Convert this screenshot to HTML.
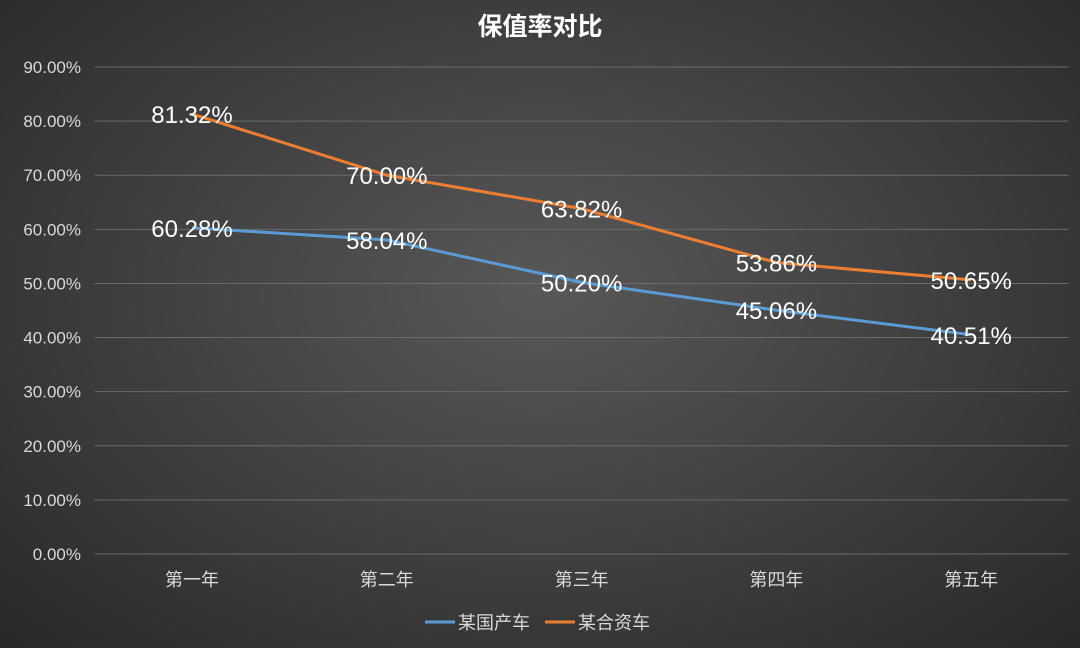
<!DOCTYPE html>
<html><head><meta charset="utf-8"><style>
html,body{margin:0;padding:0}
body{width:1080px;height:648px;overflow:hidden;background:radial-gradient(ellipse at 50% 45%,#585858 0%,#3e3e3e 55%,#282828 100%);font-family:"Liberation Sans","Noto Sans CJK SC",sans-serif}
</style></head><body>
<svg id="chart" width="1080" height="648" xmlns="http://www.w3.org/2000/svg" style="position:absolute;left:0;top:0">
<text x="540" y="35" text-anchor="middle" fill="#ffffff" font-size="25" font-weight="bold" font-family="Liberation Sans, Noto Sans CJK SC, sans-serif">保值率对比</text>
<g id="grid"></g><g id="axes"></g><g id="series"></g>
<g>
<line x1="425" y1="622" x2="455" y2="622" stroke="#5b9bd5" stroke-width="3"/>
<text x="458" y="629" fill="#d9d9d9" font-size="18" font-family="Liberation Sans, Noto Sans CJK SC, sans-serif">某国产车</text>
<line x1="545" y1="622" x2="575" y2="622" stroke="#ed7d31" stroke-width="3"/>
<text x="578" y="629" fill="#d9d9d9" font-size="18" font-family="Liberation Sans, Noto Sans CJK SC, sans-serif">某合资车</text>
</g>
</svg>
<script>
const categories=["第一年","第二年","第三年","第四年","第五年"];
const domestic=[60.28,58.04,50.20,45.06,40.51];
const joint=[81.32,70.00,63.82,53.86,50.65];
const yTicks=[0,10,20,30,40,50,60,70,80,90];
const NS="http://www.w3.org/2000/svg";
const plotLeft=94.6,plotRight=1068.6,plotTop=67,plotBottom=554,yMax=90;
const step=(plotRight-plotLeft)/categories.length;
const xs=i=>plotLeft+step*(i+0.5);
const ys=v=>plotBottom-(v/yMax)*(plotBottom-plotTop);
function mk(tag,attrs,parent){const e=document.createElementNS(NS,tag);for(const k in attrs)e.setAttribute(k,attrs[k]);parent.appendChild(e);return e;}
const gridG=document.getElementById('grid'),axesG=document.getElementById('axes'),seriesG=document.getElementById('series');
const F="Liberation Sans, Noto Sans CJK SC, sans-serif";
yTicks.forEach(t=>{
 const l=mk('line',{x1:plotLeft,x2:plotRight,y1:ys(t),y2:ys(t),stroke:'#6a6a6a','stroke-width':1},gridG);
 
 
 const tx=mk('text',{x:81,y:ys(t)+6,'text-anchor':'end',fill:'#d9d9d9','font-size':17,'font-family':F},axesG);
 tx.textContent=t.toFixed(2)+'%';
 
 
});
categories.forEach((c,i)=>{
 const tx=mk('text',{x:xs(i),y:586,'text-anchor':'middle',fill:'#d9d9d9','font-size':18,'font-family':F},axesG);
 tx.textContent=c;
 
 
});
function draw(vals,color,name){
 const p=mk('polyline',{points:vals.map((v,i)=>xs(i)+','+ys(v)).join(' '),fill:'none',stroke:color,'stroke-width':3,'stroke-linejoin':'round'},seriesG);
 
 
 vals.forEach((v,i)=>{
  const t=mk('text',{x:xs(i),y:ys(v)+9,'text-anchor':'middle',fill:'#ffffff','font-size':24,'font-family':F},seriesG);
  t.textContent=v.toFixed(2)+'%';
  
  
 });
}
draw(domestic,'#5b9bd5','domestic');
draw(joint,'#ed7d31','joint');
</script>
</body></html>
